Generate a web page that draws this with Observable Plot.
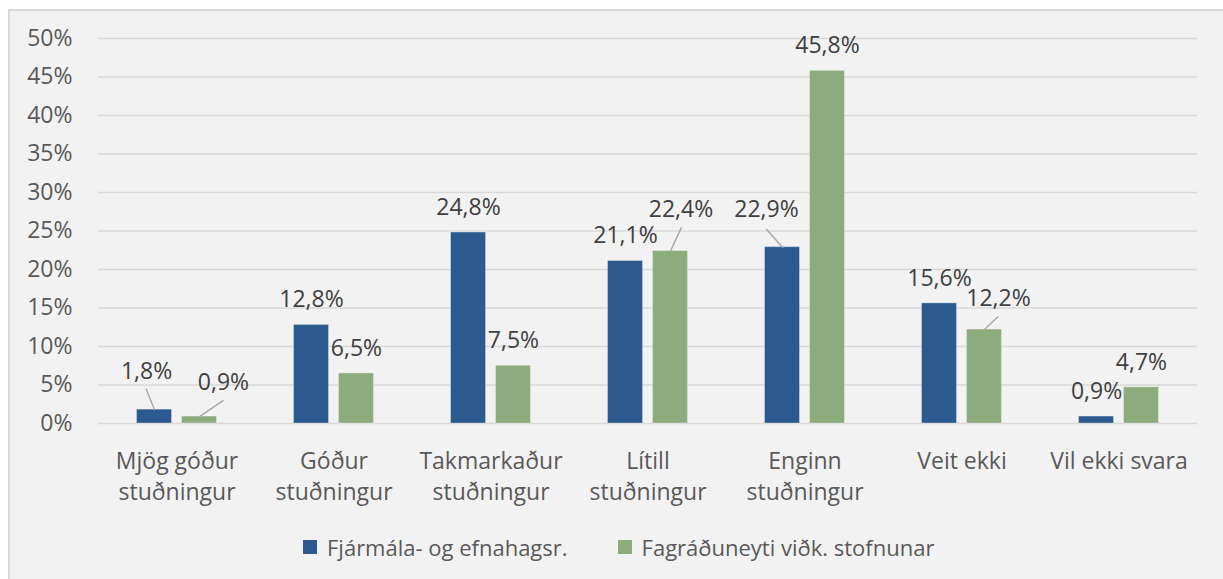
<!DOCTYPE html>
<html><head><meta charset="utf-8">
<script src="https://cdn.jsdelivr.net/npm/d3@7"></script>
<script src="https://cdn.jsdelivr.net/npm/@observablehq/plot@0.6"></script>
<style>
body{margin:0;background:#fff;width:1223px;height:579px;overflow:hidden;position:relative;font-family:"Open Sans",sans-serif}
#panel{position:absolute;left:8px;top:9px;width:1300px;height:700px;background:#f2f2f2;border-left:2px solid #d9d9d9;border-top:2px solid #d9d9d9}
#chart{position:absolute;left:0;top:0}
#legend{position:absolute;left:303px;top:530px}
.lg-swatch{margin-right:50px !important;color:#595959}
.lg-swatch > svg{margin-right:10px !important}
</style></head><body>
<div id="panel"></div><div id="chart"></div><div id="legend"></div>
<script>
// ---- data ----
const categories = ["Mjög góður stuðningur", "Góður stuðningur", "Takmarkaður stuðningur", "Lítill stuðningur", "Enginn stuðningur", "Veit ekki", "Vil ekki svara"];
const categoryLabels = ["Mjög góður\nstuðningur", "Góður\nstuðningur", "Takmarkaður\nstuðningur", "Lítill\nstuðningur", "Enginn\nstuðningur", "Veit ekki", "Vil ekki svara"];
const series = ["Fjármála- og efnahagsr.", "Fagráðuneyti viðk. stofnunar"];
const fjarmalaValues = [1.8, 12.8, 24.8, 21.1, 22.9, 15.6, 0.9];
const fagraduneytiValues = [0.9, 6.5, 7.5, 22.4, 45.8, 12.2, 4.7];
const yTicks = [0, 5, 10, 15, 20, 25, 30, 35, 40, 45, 50];

// ---- styling ----
const colors = ["#2c5a8f", "#8dac7e"];
const FONT = 23;
// callout labels (pixel offsets from the bar top, leader length/angle)
const callouts = [
  {ci: 0, si: 0, dx: -8, dy: -38, len: 22, angle: -22},
  {ci: 0, si: 1, dx: 24, dy: -34, len: 28.5, angle: 56},
  {ci: 3, si: 1, dx: 10.5, dy: -41.5, len: 25.5, angle: 25},
  {ci: 4, si: 0, dx: -16, dy: -37.5, len: 24, angle: -42},
  {ci: 5, si: 1, dx: 14, dy: -31, len: 18.5, angle: 46.5}
];

const valuesBySeries = [fjarmalaValues, fagraduneytiValues];
const table = [];
categories.forEach((c, ci) => series.forEach((s, si) => table.push({category: c, series: s, value: valuesBySeries[si][ci], ci, si})));
const labelOf = new Map(categories.map((c, i) => [c, categoryLabels[i]]));
const fmt = d => d.value.toFixed(1).replace(".", ",") + "%";
const isCallout = d => callouts.some(c => c.ci === d.ci && c.si === d.si);
const line = {draw(ctx, l) { ctx.moveTo(0, 0); ctx.lineTo(0, -l); }};

const marks = [
  Plot.gridY({ticks: yTicks, stroke: "#d9d9d9", strokeOpacity: 1, strokeWidth: 1.4}),
  Plot.axisY({ticks: yTicks, tickSize: 0, tickPadding: 26, tickFormat: d => d + "%", label: null}),
  Plot.axisFx({anchor: "bottom", tickSize: 0, tickPadding: 23, tickFormat: d => labelOf.get(d), lineHeight: 1.36, label: null}),
  Plot.barY(table, {fx: "category", x: "series", y: "value", fill: "series", stroke: "#ffffff", strokeOpacity: 0.3, strokeWidth: 1}),
  Plot.text(table, {filter: d => !isCallout(d), fx: "category", x: "series", y: "value", text: fmt, dy: -25, fill: "#404040"})
];
for (const c of callouts) {
  const f = d => d.ci === c.ci && d.si === c.si;
  marks.push(Plot.vector(table, {filter: f, fx: "category", x: "series", y: "value", length: c.len, rotate: c.angle, anchor: "start", shape: line, stroke: "#a6a6a6", strokeWidth: 1.4}));
  marks.push(Plot.text(table, {filter: f, fx: "category", x: "series", y: "value", text: fmt, dx: c.dx, dy: c.dy, fill: "#404040"}));
}

const chart = Plot.plot({
  width: 1223, height: 520,
  marginLeft: 97, marginRight: 26, marginTop: 38, marginBottom: 97,
  style: {background: "transparent", color: "#595959", fontFamily: "'Open Sans', sans-serif", fontSize: FONT + "px"},
  fx: {domain: categories, padding: 0},
  x: {domain: series, paddingInner: 10 / 45, paddingOuter: 0.857, round: false, axis: null},
  y: {domain: [0, 50]},
  color: {domain: series, range: colors},
  marks
});
document.getElementById("chart").appendChild(chart);
const lg = chart.legend("color", {swatchWidth: 14, swatchHeight: 14, className: "lg", style: {fontFamily: "'Open Sans', sans-serif", fontSize: "22px", color: "#595959", background: "transparent"}});
document.getElementById("legend").appendChild(lg);
</script>
</body></html>
